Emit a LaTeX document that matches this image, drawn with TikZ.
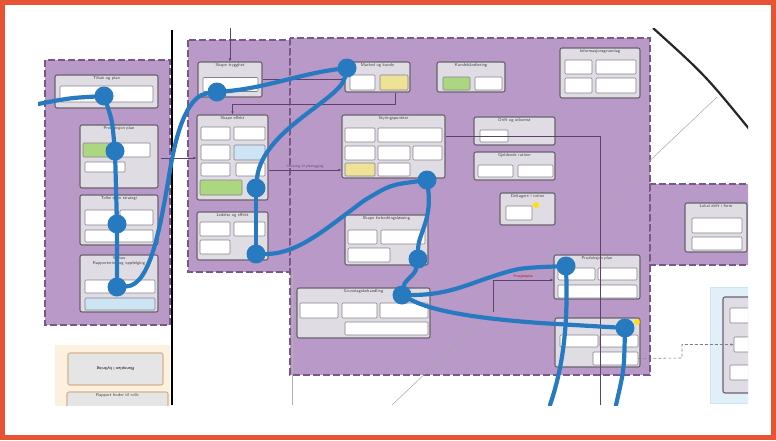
\documentclass[tikz,border=0pt]{standalone}
\usepackage{tikz}
\usetikzlibrary{arrows.meta, positioning, shapes.geometric}
\definecolor{frameorange}{RGB}{232,83,52}
\definecolor{panelfill}{RGB}{184,153,200}
\definecolor{panelline}{RGB}{120,88,135}
\definecolor{cardfill}{RGB}{224,220,227}
\definecolor{cardline}{RGB}{105,98,110}
\definecolor{subline}{RGB}{135,128,140}
\definecolor{flowblue}{RGB}{40,122,192}
\definecolor{okgreen}{RGB}{172,214,128}
\definecolor{noteyellow}{RGB}{238,226,150}
\definecolor{lightblue}{RGB}{204,228,243}
\definecolor{beige}{RGB}{251,241,222}
\definecolor{connline}{RGB}{95,65,105}
\tikzset{
  panel/.style={fill=panelfill, draw=panelline, line width=2pt, dash pattern=on 7pt off 3pt},
  card/.style={draw=cardline, fill=cardfill, rounded corners=2pt, line width=1.1pt, inner sep=0pt},
  ttl/.style={anchor=north, inner sep=1.5pt, align=center, font=\sffamily\fontsize{4.3}{4.8}\selectfont, text=black!75},
  sub/.style={draw=subline, fill=white, rounded corners=1pt, line width=0.6pt, inner sep=0pt},
  flow/.style={draw=flowblue, line width=4.2pt, line cap=round},
  dot/.style={circle, fill=flowblue, minimum size=19pt, inner sep=0pt},
  conn/.style={draw=connline, line width=0.6pt},
  toarrow/.style={-{Latex[length=3pt,width=2.6pt]}},
  lbl/.style={font=\sffamily\fontsize{3.5}{4}\selectfont, text=connline, inner sep=1pt},
  glow/.style={star, star points=8, fill=yellow!85!orange, minimum size=7pt, inner sep=0pt},
}
\begin{document}
\begin{tikzpicture}[x=1pt,y=-1pt]
\useasboundingbox (0,0) rectangle (776,440);
\fill[white] (0,0) rectangle (776,440);
\draw[frameorange, line width=5pt] (2.5,2.5) rectangle (773.5,437.5);
\begin{scope}
\clip (38,28) rectangle (748,405);
\path[panel] (45,60) rectangle (170,325);
\path[panel] (188,40) rectangle (290,272);
\path[panel] (290,38) rectangle (650,375);
\path[panel] (650,184) rectangle (752,265);
\path[fill=lightblue!60, draw=lightblue] (710,287) rectangle (752,403);
\path[fill=beige] (55,345) rectangle (170,410);

\draw[gray!70, line width=0.5pt] (717,97) -- (392,405);
\draw[gray!60, line width=0.5pt] (292,272) -- (292,405);
\draw[black, line width=1.6pt] (172,30) -- (172,405);
\draw[black!85, line width=2.2pt] (653,28) .. controls (705,75) .. (750,130);

\node[card, minimum width=103, minimum height=33, label={[ttl]north:Tiltak og plan}] (c1) at (106.5,91.5) {};
\node[card, minimum width=78, minimum height=63, label={[ttl]north:Produksjon plan}] (c2) at (119,156.5) {};
\node[card, minimum width=78, minimum height=50, label={[ttl]north:Tolke egen strategi}] (c3) at (119,220) {};
\node[card, minimum width=78, minimum height=57, label={[ttl]north:Status\\Rapportering og oppfølging}] (c4) at (119,283.5) {};
\node[card, minimum width=64, minimum height=35, label={[ttl]north:Skape trygghet}] (c5) at (230,79.5) {};
\node[card, minimum width=71, minimum height=85, label={[ttl]north:Skape effekt}] (c6) at (232.5,157.5) {};
\node[card, minimum width=71, minimum height=48, label={[ttl]north:Ledelse og effekt}] (c7) at (232.5,236) {};
\node[card, minimum width=65, minimum height=30, label={[ttl]north:Marked og kunde}] (c8) at (377.5,77) {};
\node[card, minimum width=68, minimum height=30, label={[ttl]north:Kundehåndtering}] (c9) at (471,77) {};
\node[card, minimum width=80, minimum height=50, label={[ttl]north:Informasjonsgrunnlag}] (c10) at (600,73) {};
\node[card, minimum width=103, minimum height=63, label={[ttl]north:Styringspunkter}] (c11) at (393.5,146.5) {};
\node[card, minimum width=81, minimum height=28, label={[ttl]north:Drift og utkomst}] (c12) at (514.5,131) {};
\node[card, minimum width=81, minimum height=28, label={[ttl]north:Gjeldende rutiner}] (c13) at (514.5,166) {};
\node[card, minimum width=55, minimum height=32, label={[ttl]north:Deltagere i rutine}] (c14) at (527.5,209) {};
\node[card, minimum width=83, minimum height=50, label={[ttl]north:Skape forbedringsløsning}] (c15) at (386.5,240) {};
\node[card, minimum width=133, minimum height=50, label={[ttl]north:Grunnlagsbehandling}] (c16) at (363.5,313) {};
\node[card, minimum width=86, minimum height=44, label={[ttl]north:Produksjon plan}] (c17) at (597,277) {};
\node[card, minimum width=85, minimum height=49] (c18) at (597.5,342.5) {};
\node[card, minimum width=62, minimum height=49, label={[ttl]north:Lokal drift i form}] (c19) at (716,227.5) {};
\node[card, minimum width=30, minimum height=96] (c20) at (738,345) {};
\node[card, draw=brown!60, fill=black!10, minimum width=95, minimum height=32] (b1) at (115.5,369) {\rotatebox{180}{\sffamily\fontsize{4.3}{4.8}\selectfont Bunnplan i byltning}};
\node[card, draw=brown!60, fill=black!10, minimum width=101, minimum height=22, label={[ttl]north:Rapport hoder til rolle}] (b2) at (117.5,403) {};

\foreach \n/\cx/\cy/\w/\h/\c in {
  a1/106.5/94/93/16/white,
  a2/97.5/150/29/14/okgreen, a3/132.5/150/35/14/white, a4/105/167/40/10/white,
  a5/100/217.5/30/15/white, a6/136.5/217.5/33/15/white, a7/119/236/68/12/white,
  a8/120/286.5/70/13/white, a9/120/304/70/12/lightblue,
  b3/230.5/84.5/55/14/white,
  b4/215.5/133.5/29/13/white, b5/249.5/133.5/31/13/white, b6/215.5/152.5/29/15/white,
  b7/249.5/152.5/31/15/lightblue, b8/215.5/169.5/29/13/white, b9/250.5/169.5/29/13/white,
  b10/221/187.5/42/15/okgreen,
  b11/215/229/30/14/white, b12/249.5/229/31/14/white, b13/215/247/30/14/white,
  e1/362.5/82.5/25/15/white, e2/394/82.5/28/15/noteyellow,
  e3/456.5/83.5/27/13/okgreen, e4/488.5/83.5/27/13/white,
  e5/578.5/67/27/14/white, e6/616/67/40/14/white, e7/578.5/85.5/27/15/white, e8/616/85.5/40/15/white,
  f1/360/135/30/14/white, f2/410/135/64/14/white, f3/360/153/30/14/white,
  f4/394/153/32/14/white, f5/427.5/153/29/14/white, f6/360/169.5/30/13/noteyellow, f7/394/169.5/32/13/white,
  f8/494/136/28/12/white, f9/495.5/171/35/12/white, f10/535.5/171/35/12/white,
  f11/519/213/26/14/white,
  g3/362.5/237/29/14/white, g4/403/237/44/14/white, g5/369/255/42/14/white,
  h1/319/310.5/38/15/white, h2/359.5/310.5/35/15/white, h3/404/310.5/48/15/white, h4/386.5/328.5/83/13/white,
  h5/576.5/274/37/12/white, h6/617.5/274/39/12/white, h7/597.5/291.5/79/13/white,
  h8/579/341/38/12/white, h9/619/341/38/12/white, h10/615.5/358.5/45/13/white,
  k1/717/225.5/50/15/white, k2/717/243.5/50/13/white,
  k3/740/315.5/20/15/white, k4/742/344.5/16/15/white, k5/740/372.5/20/15/white} {
  \node[sub, fill=\c, minimum width=\w, minimum height=\h] (\n) at (\cx,\cy) {};
}

\coordinate (t5) at (230,28);
\coordinate (k8) at (395,104);
\coordinate (k6) at (161,158);
\coordinate (k17) at (493,312);
\coordinate (k18) at (682,358);
\draw[conn, toarrow] (t5) -- (c5.north);
\draw[conn, toarrow] (c5.east) -- (c5.east -| c8.west);
\draw[conn, toarrow] (c8.south -| k8) -- (k8) -| (c6.north);
\draw[conn, toarrow] (k6) -- (k6 -| c6.west);
\draw[conn, toarrow] (c6.east |- 0,170) -- node[lbl, above] {Grunnlag til planlegging} (c11.west |- 0,170);
\draw[conn] (c11.east |- 0,136) -| (600,405);
\draw[conn, toarrow] (k17) |- node[lbl, above, pos=0.75, text=red!70!black] {Prosjektplan} (c17.west |- 0,280);
\draw[conn, gray, densely dashed, toarrow] (h10.east) -- (k18) |- (k4.west);

\node[glow] (s1) at (536,205) {};
\node[glow] (s2) at (637,322) {};

\node[dot] (d1) at (104,96) {};
\node[dot] (d2) at (115,151) {};
\node[dot] (d3) at (117,224) {};
\node[dot] (d4) at (117,287) {};
\node[dot] (d5) at (217,92) {};
\node[dot] (d6) at (347,68) {};
\node[dot] (d7) at (256,188) {};
\node[dot] (d8) at (256,254) {};
\node[dot] (d9) at (427,180) {};
\node[dot] (d10) at (418,259) {};
\node[dot] (d11) at (402,295) {};
\node[dot] (d12) at (566,266) {};
\node[dot] (d13) at (625,328) {};
\coordinate (w0) at (38,104);
\coordinate (w1) at (550,405);
\coordinate (w2) at (616,405);

\draw[flow] (w0) .. controls (70,98) .. (d1);
\draw[flow] (d1) .. controls (112,120) .. (d2) -- (d3) -- (d4);
\draw[flow] (d4) .. controls (150,285) and (160,230) .. (170,170) .. controls (180,110) and (195,95) .. (d5);
\draw[flow] (d5) .. controls (265,88) and (300,74) .. (d6);
\draw[flow] (d6) .. controls (340,100) and (262,130) .. (d7);
\draw[flow] (d7) -- (d8);
\draw[flow] (d8) .. controls (300,254) and (330,225) .. (365,200) .. controls (390,185) .. (d9);
\draw[flow] (d9) .. controls (432,220) and (418,235) .. (d10);
\draw[flow] (d10) .. controls (415,275) and (405,280) .. (d11);
\draw[flow] (d11) .. controls (450,295) and (470,283) .. (500,274) .. controls (520,268) .. (d12);
\draw[flow] (d11) .. controls (430,310) and (470,318) .. (540,323) -- (d13);
\draw[flow] (d12) .. controls (568,330) and (562,370) .. (w1);
\draw[flow] (d13) .. controls (624,370) .. (w2);
\end{scope}
\end{tikzpicture}
\end{document}
